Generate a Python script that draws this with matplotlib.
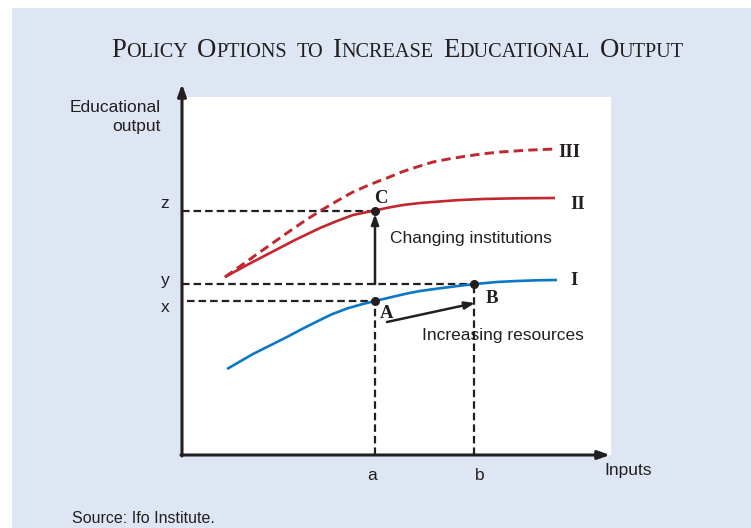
import numpy as np
import matplotlib.pyplot as plt
from matplotlib.patches import Rectangle

# curve data (inputs, educational output) in chart units
curve1_x = [45, 58, 71, 88, 105, 121, 138, 150, 165, 180, 193, 210, 225, 238, 260, 280, 293,
            315, 335, 355, 375]
curve1_y = [86, 93.5, 101, 109.5, 118, 126.5, 135, 140.8, 146.5, 150.8, 154, 158, 161.5, 164,
            167, 169.5, 171, 173, 174, 174.7, 175]
curve2_x = [43, 65, 88, 113, 138, 155, 171, 183, 193, 207, 221, 238, 251, 275, 301, 335, 373]
curve2_y = [178, 190, 202, 215, 227, 234, 240, 242.5, 244.5, 247.5, 250, 252, 253, 254.8, 256,
            256.7, 257]
curve3_x = [43, 57, 71, 88, 105, 121, 138, 155, 171, 188, 205, 221, 238, 251, 268, 285, 301,
            318, 345, 373]
curve3_y = [178, 188, 198, 210, 222, 233, 244, 254, 263, 270.5, 277, 283.5, 289, 293, 296.3,
            299, 301.2, 303, 304.8, 306]

# points A, B, C
pt_names = ['A', 'B', 'C']
pt_x = [193, 292, 193]
pt_y = [154, 171, 244]

# levels on the axes
lvl_x = {'a': 193, 'b': 292}
lvl_y = {'x': 154, 'y': 171, 'z': 244}

blue = '#0a78c2'
red = '#c1272d'
dark = '#231f20'
bg = '#dfe6f3'
sans = 'Liberation Sans'
serif = 'Liberation Serif'

W, H = 751, 528
fig = plt.figure(figsize=(W / 100, H / 100), dpi=100, facecolor='white')
fig.patches.append(Rectangle((12 / W, 0), 1 - 12 / W, 1 - 8 / H, transform=fig.transFigure,
                             facecolor=bg, edgecolor='none', zorder=-10))

ax = fig.add_axes([182 / W, (H - 455) / H, 429 / W, 358 / H])
ax.set_facecolor('white')
ax.set_xlim(0, 429)
ax.set_ylim(0, 358)
for s in ax.spines.values():
    s.set_visible(False)
ax.set_xticks([])
ax.set_yticks([])

# axes with arrows
ax.annotate('', xy=(0, 371), xytext=(0, -1), annotation_clip=False,
            arrowprops=dict(arrowstyle='-|>,head_length=0.7,head_width=0.25', color=dark, lw=2.2,
                            shrinkA=0, shrinkB=0))
ax.annotate('', xy=(428, 0), xytext=(-1, 0), annotation_clip=False,
            arrowprops=dict(arrowstyle='-|>,head_length=0.7,head_width=0.25', color=dark, lw=2.2,
                            shrinkA=0, shrinkB=0))

# dashed guide lines
dash = (0, (3.4, 1.8))
ax.plot([0, pt_x[2]], [lvl_y['z'], lvl_y['z']], color=dark, lw=1.6, ls=dash)
ax.plot([0, pt_x[1]], [lvl_y['y'], lvl_y['y']], color=dark, lw=1.6, ls=dash)
ax.plot([5, pt_x[0]], [lvl_y['x'], lvl_y['x']], color=dark, lw=1.6, ls=dash)
ax.plot([lvl_x['a'], lvl_x['a']], [0, pt_y[0]], color=dark, lw=1.6, ls=dash)
ax.plot([lvl_x['b'], lvl_x['b']], [0, pt_y[1]], color=dark, lw=1.6, ls=dash)

# curves
ax.plot(curve1_x, curve1_y, color=blue, lw=1.9, solid_capstyle='butt', solid_joinstyle='round')
ax.plot(curve2_x, curve2_y, color=red, lw=1.9, solid_capstyle='butt', solid_joinstyle='round')
ax.plot(curve3_x, curve3_y, color=red, lw=2.1, ls=(0, (3.2, 1.8)))

# policy arrows
ax.annotate('', xy=(pt_x[2], pt_y[2] - 3), xytext=(pt_x[2], lvl_y['y']),
            arrowprops=dict(arrowstyle='-|>,head_length=0.6,head_width=0.22', color=dark, lw=1.8,
                            shrinkA=0, shrinkB=0))
ax.annotate('', xy=(293, 152), xytext=(205, 133),
            arrowprops=dict(arrowstyle='-|>,head_length=0.6,head_width=0.22', color=dark, lw=1.8,
                            shrinkA=0, shrinkB=0))

ax.scatter(pt_x, pt_y, s=30, color=dark, zorder=5)

# point and curve labels
bold = dict(family=serif, fontweight='bold', fontsize=13.5, color=dark, va='baseline', ha='left')
ax.text(198, 137, 'A', **bold)
ax.text(304, 152, 'B', **bold)
ax.text(192, 252, 'C', **bold)
ax.text(388, 170, 'I', **bold)
ax.text(388, 246, 'II', **bold)
ax.text(376, 298, 'III', **bold)

lab = dict(family=sans, fontsize=12.5, color=dark, va='baseline')
ax.text(208, 212, 'Changing institutions', ha='left', **lab)
ax.text(240, 115, 'Increasing resources', ha='left', **lab)
ax.text(-17, 247, 'z', ha='center', clip_on=False, **lab)
ax.text(-17, 170, 'y', ha='center', clip_on=False, **lab)
ax.text(-17, 143, 'x', ha='center', clip_on=False, **lab)
ax.text(lvl_x['a'] - 3, -25, 'a', ha='center', clip_on=False, **lab)
ax.text(lvl_x['b'] + 6, -25, 'b', ha='center', clip_on=False, **lab)
ax.text(422, -20, 'Inputs', ha='left', clip_on=False, **lab)
ax.text(-21, 324, 'Educational\noutput', ha='right', va='baseline', family=sans, fontsize=12.5,
        color=dark, linespacing=1.3, clip_on=False)

fig.text(72 / W, (H - 523) / H, 'Source: Ifo Institute.', family=sans, fontsize=11.5,
         color=dark, va='baseline', ha='left')

# title in small caps: (large letter, rest) per word
title_words = [('P', 'OLICY'), ('O', 'PTIONS'), ('', 'TO'), ('I', 'NCREASE'),
               ('E', 'DUCATIONAL'), ('O', 'UTPUT')]
big_size, small_size = 19.3, 14.6
renderer = fig.canvas.get_renderer()
pieces = []
for big, small in title_words:
    for txt, size in ((big, big_size), (small, small_size)):
        if txt:
            t = fig.text(0, 0, txt, family=serif, fontsize=size, color=dark,
                         va='baseline', ha='left', transform=None)
            pieces.append((t, t.get_window_extent(renderer).width))
    pieces.append((None, 9.5))
pieces = pieces[:-1]
total = sum(w for _, w in pieces)
x0 = 397.5 - total / 2
base = H - 57
for t, w in pieces:
    if t is not None:
        t.set_position((x0, base))
    x0 += w

fig.savefig('out.png', dpi=100, facecolor=fig.get_facecolor())
